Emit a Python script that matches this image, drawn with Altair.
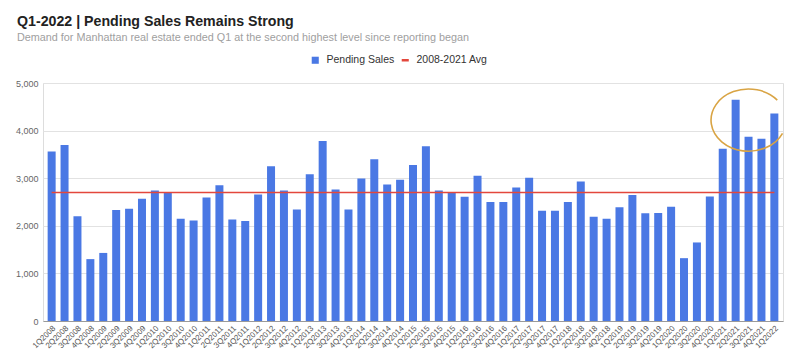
import altair as alt
import pandas as pd

quarters = [
    "1Q2008", "2Q2008", "3Q2008", "4Q2008", "1Q2009", "2Q2009", "3Q2009", "4Q2009",
    "1Q2010", "2Q2010", "3Q2010", "4Q2010", "1Q2011", "2Q2011", "3Q2011", "4Q2011",
    "1Q2012", "2Q2012", "3Q2012", "4Q2012", "1Q2013", "2Q2013", "3Q2013", "4Q2013",
    "1Q2014", "2Q2014", "3Q2014", "4Q2014", "1Q2015", "2Q2015", "3Q2015", "4Q2015",
    "1Q2016", "2Q2016", "3Q2016", "4Q2016", "1Q2017", "2Q2017", "3Q2017", "4Q2017",
    "1Q2018", "2Q2018", "3Q2018", "4Q2018", "1Q2019", "2Q2019", "3Q2019", "4Q2019",
    "1Q2020", "2Q2020", "3Q2020", "4Q2020", "1Q2021", "2Q2021", "3Q2021", "4Q2021",
    "1Q2022",
]
pending_sales = [
    3560, 3700, 2200, 1300, 1430, 2330, 2360, 2570,
    2740, 2690, 2150, 2110, 2595, 2850, 2130, 2100,
    2660, 3250, 2740, 2340, 3085, 3780, 2760, 2340,
    2995, 3400, 2870, 2965, 3275, 3670, 2740, 2690,
    2610, 3050, 2500, 2500, 2805, 3010, 2315, 2315,
    2500, 2930, 2190, 2150, 2390, 2645, 2265, 2270,
    2400, 1320, 1650, 2615, 3620, 4650, 3870, 3830,
    4360,
]
avg_value = 2700
avg_label = "2008-2021 Avg"
bar_label = "Pending Sales"
y_ticks = [0, 1000, 2000, 3000, 4000, 5000]
highlight_quarter = ["3Q2021"]
highlight_level = [4220]

BLUE = "#4a78e4"
RED = "#e3473c"
ORANGE = "#d9a444"
FONT = "Liberation Sans"

bars_df = pd.DataFrame({"quarter": quarters, "value": pending_sales, "series": bar_label})
avg_df = pd.DataFrame({"quarter": quarters, "value": [avg_value] * len(quarters), "series": avg_label})
hl_df = pd.DataFrame({"quarter": highlight_quarter, "value": highlight_level})

x_enc = alt.X(
    "quarter:N",
    sort=quarters,
    title=None,
    scale=alt.Scale(domain=quarters, paddingInner=0.38, paddingOuter=0.36),
    axis=alt.Axis(
        labelAngle=-45, labelFontSize=8, labelColor="#555555", labelFont=FONT,
        ticks=False, domainColor="#9a9a9a", labelPadding=3, labelOverlap=False,
        labelAlign="right", labelBaseline="top",
    ),
)
y_scale = alt.Scale(domain=[0, 5000], nice=False)
y_axis = alt.Axis(
    values=y_ticks, format=",d", title=None, ticks=False, domain=False,
    labelFontSize=9, labelColor="#666666", labelFont=FONT, labelPadding=5,
    gridColor="#e2e2e2",
)

bars = alt.Chart(bars_df).mark_bar(size=8).encode(
    x=x_enc,
    y=alt.Y("value:Q", scale=y_scale, axis=y_axis),
    color=alt.Color(
        "series:N",
        scale=alt.Scale(domain=[bar_label], range=[BLUE]),
        legend=alt.Legend(
            orient="none", legendX=267, legendY=-28, title=None,
            symbolType="square", symbolSize=50, labelFontSize=10.5,
            labelFont=FONT, labelColor="#333333", labelOffset=6,
        ),
    ),
)

avg_line = alt.Chart(avg_df).mark_line(strokeWidth=1.6).encode(
    x=alt.X("quarter:N", sort=quarters),
    y=alt.Y("value:Q", scale=y_scale),
    stroke=alt.Stroke(
        "series:N",
        scale=alt.Scale(domain=[avg_label], range=[RED]),
        legend=alt.Legend(
            orient="none", legendX=357, legendY=-28, title=None,
            symbolType="stroke", symbolSize=50, symbolStrokeWidth=2.5,
            labelFontSize=10.5, labelFont=FONT, labelColor="#333333", labelOffset=6,
        ),
    ),
)

loop_path = "M 0.766 -0.534 A 1 0.83 0 1 0 0.906 0.351"
highlight = alt.Chart(hl_df).mark_point(
    shape=loop_path, size=5625, filled=False, stroke=ORANGE, strokeWidth=1.6, opacity=1
).encode(
    x=alt.X("quarter:N", sort=quarters),
    y=alt.Y("value:Q", scale=y_scale),
)

chart = alt.layer(bars, avg_line, highlight).resolve_legend(color="independent", stroke="independent").properties(
    width=740,
    height=238,
    autosize=alt.AutoSizeParams(type="none"),
    padding={"left": 35, "top": 75, "right": 11, "bottom": 32},
    title=alt.TitleParams(
        text="Q1-2022 | Pending Sales Remains Strong",
        subtitle="Demand for Manhattan real estate ended Q1 at the second highest level since reporting began",
        anchor="start",
        frame="group",
        dx=-26,
        fontSize=14.2,
        font=FONT,
        fontWeight="bold",
        color="#222222",
        subtitleFont=FONT,
        subtitleFontSize=10.8,
        subtitleColor="#a0a0a0",
        subtitlePadding=3,
        offset=12,
    ),
).configure_view(stroke=None).configure(background="white")

chart.save("out.html", embed_options={"renderer": "svg", "actions": False})
